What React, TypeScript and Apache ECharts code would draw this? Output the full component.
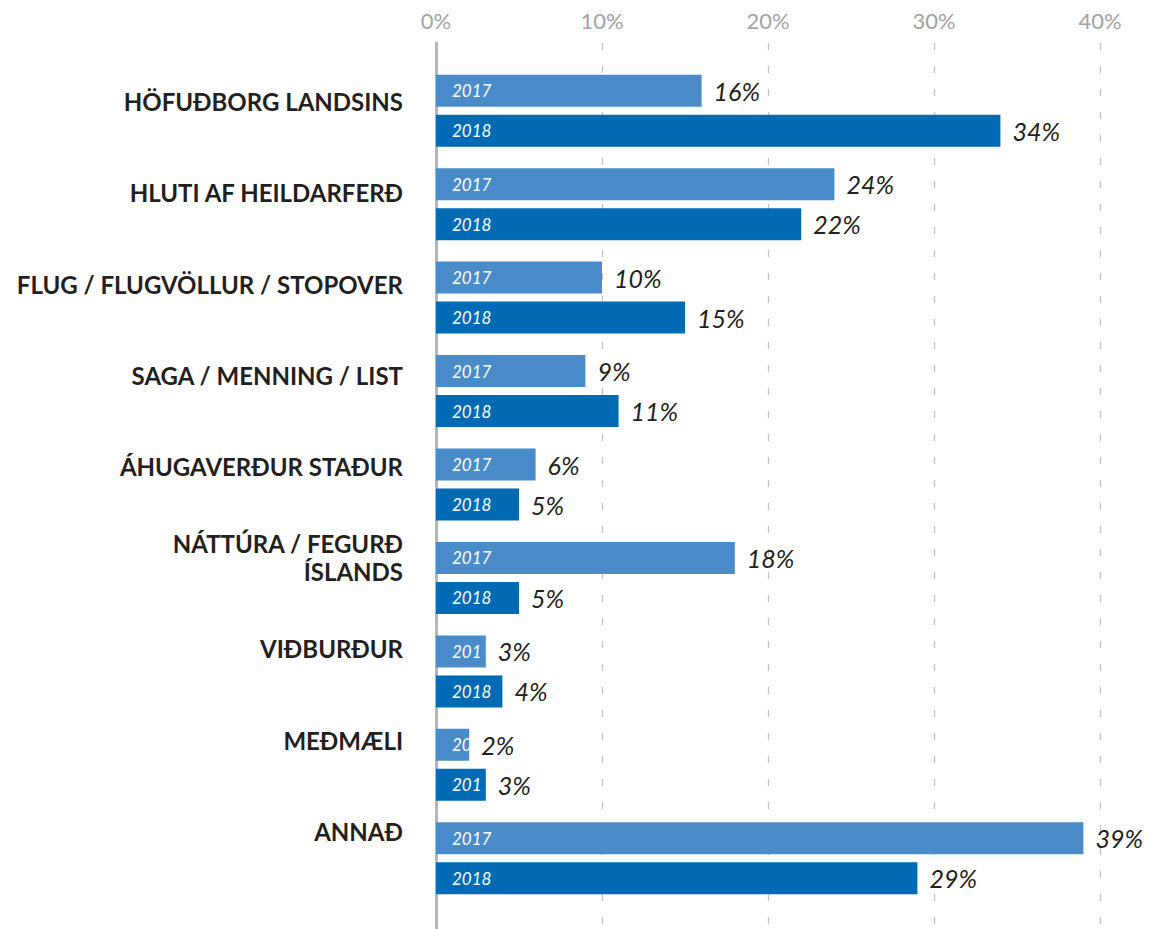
import React, { useEffect, useRef } from "react";
import * as echarts from "echarts";

const categories = [
  "HÖFUÐBORG LANDSINS",
  "HLUTI AF HEILDARFERÐ",
  "FLUG / FLUGVÖLLUR / STOPOVER",
  "SAGA / MENNING / LIST",
  "ÁHUGAVERÐUR STAÐUR",
  "NÁTTÚRA / FEGURÐ\nÍSLANDS",
  "VIÐBURÐUR",
  "MEÐMÆLI",
  "ANNAÐ",
];
const seriesNames = ["2017", "2018"];
const values2017 = [16, 24, 10, 9, 6, 18, 3, 2, 39];
const values2018 = [34, 22, 15, 11, 5, 5, 4, 3, 29];
const axisMin = 0;
const axisMax = 40;
const axisStep = 10;

const COLOR_2017 = "#4a8bc9";
const COLOR_2018 = "#006bb5";
const FONT = "Lato";

export default function App() {
  const ref = useRef<HTMLDivElement>(null);
  useEffect(() => {
    document.body.style.margin = "0";
    const chart = echarts.init(ref.current!, null, { renderer: "svg" });
    const gridLR = { left: 436, right: 67 };
    const valueLabel = {
      show: true,
      position: "right",
      distance: 12,
      formatter: "{c}%",
      fontFamily: FONT,
      fontStyle: "italic",
      fontSize: 25,
      color: "#231f20",
    };
    const innerLabel = (name: string) => ({
      show: true,
      position: "insideLeft",
      distance: 16,
      formatter: name,
      fontFamily: FONT,
      fontStyle: "italic",
      fontSize: 17,
      color: "#ffffff",
      overflow: "truncate",
      ellipsis: "",
    });
    const option: any = {
      animation: false,
      grid: [
        { ...gridLR, top: 64, bottom: 24 },
        { ...gridLR, top: 43, bottom: 0 },
        { ...gridLR, top: 56, bottom: 52 },
      ],
      xAxis: [
        { gridIndex: 0, type: "value", min: axisMin, max: axisMax, show: false },
        {
          gridIndex: 1,
          type: "value",
          position: "top",
          min: axisMin,
          max: axisMax,
          interval: axisStep,
          axisLine: { show: false },
          axisTick: { show: false },
          axisLabel: {
            formatter: "{value}%",
            fontFamily: FONT,
            fontSize: 22,
            color: "#a3a3a3",
            margin: 12,
          },
          splitLine: {
            show: true,
            lineStyle: { color: "#c4c4c4", width: 1.3, type: [7, 16] },
          },
        },
        { gridIndex: 2, type: "value", min: axisMin, max: axisMax, show: false },
        { gridIndex: 0, type: "value", min: axisMin, max: axisMax, show: false },
      ],
      yAxis: [
        { gridIndex: 0, type: "category", inverse: true, data: categories, show: false },
        {
          gridIndex: 1,
          type: "category",
          data: [""],
          axisLine: { show: true, lineStyle: { color: "#b5b5ba", width: 3 } },
          axisTick: { show: false },
          axisLabel: { show: false },
          splitLine: { show: false },
        },
        {
          gridIndex: 2,
          type: "category",
          inverse: true,
          data: categories,
          axisLine: { show: false },
          axisTick: { show: false },
          axisLabel: {
            fontFamily: FONT,
            fontWeight: "bold",
            fontSize: 24,
            lineHeight: 28,
            color: "#231f20",
            margin: 33,
            align: "right",
          },
        },
        { gridIndex: 0, type: "category", inverse: true, data: categories, show: false },
      ],
      series: [
        {
          id: "s2017",
          name: seriesNames[0],
          type: "bar",
          xAxisIndex: 0,
          yAxisIndex: 0,
          data: values2017,
          barWidth: 32,
          itemStyle: { color: COLOR_2017 },
          label: valueLabel,
        },
        {
          id: "s2018",
          name: seriesNames[1],
          type: "bar",
          xAxisIndex: 0,
          yAxisIndex: 0,
          data: values2018,
          barWidth: 32,
          barGap: "25%",
          itemStyle: { color: COLOR_2018 },
          label: valueLabel,
        },
        {
          id: "o2017",
          type: "bar",
          xAxisIndex: 3,
          yAxisIndex: 3,
          data: values2017,
          barWidth: 32,
          silent: true,
          z: 5,
          itemStyle: { color: "rgba(0,0,0,0)" },
          label: innerLabel(seriesNames[0]),
        },
        {
          id: "o2018",
          type: "bar",
          xAxisIndex: 3,
          yAxisIndex: 3,
          data: values2018,
          barWidth: 32,
          barGap: "25%",
          silent: true,
          z: 5,
          itemStyle: { color: "rgba(0,0,0,0)" },
          label: innerLabel(seriesNames[1]),
        },
      ],
    };
    chart.setOption(option);
    const p0 = chart.convertToPixel({ xAxisIndex: 0 }, axisMin) as number;
    const withWidths = (vals: number[]) =>
      vals.map((v) => ({
        value: v,
        label: {
          width: Math.max(0, (chart.convertToPixel({ xAxisIndex: 0 }, v) as number) - p0 - 12),
        },
      }));
    chart.setOption({
      series: [
        { id: "o2017", data: withWidths(values2017) },
        { id: "o2018", data: withWidths(values2018) },
      ],
    });
    return () => chart.dispose();
  }, []);
  return <div ref={ref} style={{ width: 1167, height: 929 }} />;
}
